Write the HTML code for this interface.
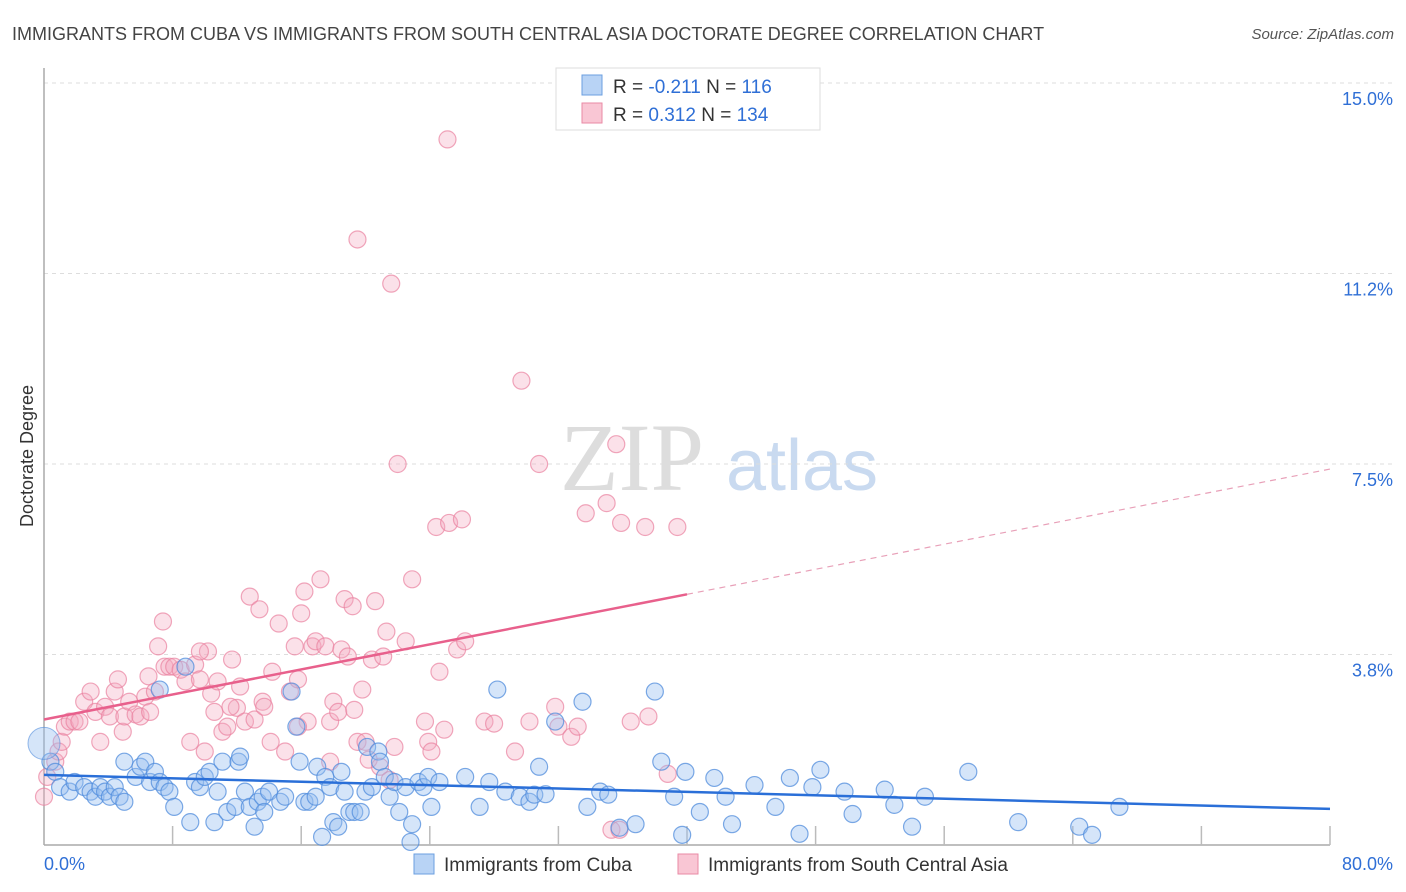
<!DOCTYPE html>
<html><head><meta charset="utf-8"><style>
body{margin:0;background:#fff;font-family:"Liberation Sans",sans-serif;}
svg{display:block}
</style></head><body>
<svg width="1406" height="892" id="c">
<text x="12" y="40" font-size="18" fill="#444">IMMIGRANTS FROM CUBA VS IMMIGRANTS FROM SOUTH CENTRAL ASIA DOCTORATE DEGREE CORRELATION CHART</text>
<text x="1394" y="39" font-size="15" fill="#555" font-style="italic" text-anchor="end">Source: ZipAtlas.com</text>
<g>
<text x="632" y="490" font-size="96" fill="#ddd" font-family="Liberation Serif" text-anchor="middle">ZIP</text>
<text x="802" y="490" font-size="72" fill="#c9daf0" text-anchor="middle">atlas</text>
</g>
<g id="grid"></g>
<g id="axes"></g>
<text transform="translate(33,456) rotate(-90)" font-size="18" fill="#333" text-anchor="middle">Doctorate Degree</text>
<g id="pts"></g>
<g id="trends"></g>
<g>
<rect x="556" y="68" width="264" height="62" fill="#fff" stroke="#ddd"/>
<rect x="582" y="75" width="20" height="20" fill="#b8d3f5" stroke="#6b9fe0"/>
<rect x="582" y="103" width="20" height="20" fill="#f9c6d4" stroke="#e98aa5"/>
<text x="613" y="93" font-size="19" fill="#333">R = <tspan fill="#2f6fd6">-0.211</tspan>   N = <tspan fill="#2f6fd6">116</tspan></text>
<text x="613" y="121" font-size="19" fill="#333">R = <tspan fill="#2f6fd6"> 0.312</tspan>   N = <tspan fill="#2f6fd6">134</tspan></text>
</g>
<g>
<rect x="414" y="854" width="20" height="20" fill="#b8d3f5" stroke="#6b9fe0"/>
<text x="444" y="871" font-size="19" fill="#333">Immigrants from Cuba</text>
<rect x="678" y="854" width="20" height="20" fill="#f9c6d4" stroke="#e98aa5"/>
<text x="708" y="871" font-size="19" fill="#333">Immigrants from South Central Asia</text>
</g>
</svg>
<script>
const yTicks=[3.8,7.5,11.2,15.0];
const yTickVals=[3.75,7.5,11.25,15];
const xTickLabels=["0.0%","80.0%"];
const blue=[[0.4,1.64],[0.7,1.44],[1.0,1.14],[1.6,1.05],[1.9,1.24],[2.5,1.14],[2.9,1.05],[3.2,0.95],[3.5,1.14],[3.8,1.05],[4.1,0.95],[4.4,1.14],[4.7,0.95],[5.0,0.85],[5.0,1.64],[5.7,1.34],[6.0,1.54],[6.3,1.64],[6.6,1.24],[6.9,1.44],[7.2,1.24],[7.5,1.14],[7.8,1.05],[8.1,0.75],[7.2,3.06],[8.8,3.51],[9.1,0.45],[9.4,1.24],[9.7,1.14],[10.0,1.34],[10.3,1.44],[10.6,0.45],[10.8,1.05],[11.1,1.64],[11.4,0.65],[11.9,0.75],[12.1,1.64],[12.2,1.74],[12.5,1.05],[12.8,0.75],[13.1,0.36],[13.3,0.85],[13.6,0.95],[13.7,0.65],[14.0,1.05],[14.7,0.85],[15.0,0.95],[15.4,3.02],[15.7,2.33],[15.9,1.64],[16.2,0.85],[16.5,0.85],[16.9,0.95],[17.0,1.54],[17.3,0.16],[17.5,1.34],[17.8,1.14],[18.0,0.45],[18.3,0.36],[18.5,1.44],[18.7,1.05],[19.0,0.65],[19.3,0.65],[19.7,0.65],[20.0,1.05],[20.1,1.93],[20.4,1.14],[20.8,1.84],[20.9,1.64],[21.2,1.34],[21.5,0.95],[21.8,1.24],[22.1,0.65],[22.5,1.14],[22.8,0.06],[22.9,0.41],[23.3,1.24],[23.6,1.14],[23.9,1.34],[24.1,0.75],[24.6,1.24],[26.2,1.34],[27.1,0.75],[27.7,1.24],[28.2,3.06],[28.7,1.05],[29.6,0.95],[30.2,0.85],[30.5,0.99],[30.8,1.54],[31.2,1.0],[31.8,2.43],[33.5,2.82],[33.8,0.75],[34.6,1.05],[35.1,0.99],[35.8,0.34],[36.8,0.41],[38.0,3.02],[38.4,1.64],[39.2,0.95],[39.7,0.2],[39.9,1.44],[40.8,0.65],[41.7,1.32],[42.4,0.95],[42.8,0.41],[44.2,1.18],[45.5,0.75],[46.4,1.32],[47.0,0.22],[47.8,1.14],[48.3,1.48],[49.8,1.05],[50.3,0.61],[52.3,1.09],[52.9,0.79],[54.0,0.36],[54.8,0.95],[57.5,1.44],[60.6,0.45],[64.4,0.36],[65.2,0.2],[66.9,0.75]];
const pink=[[0,0.95],[0.2,1.34],[0.7,1.64],[0.9,1.84],[1.1,2.03],[1.3,2.33],[1.6,2.43],[1.9,2.43],[2.2,2.43],[2.5,2.82],[2.9,3.02],[3.2,2.62],[3.5,2.03],[3.8,2.72],[4.1,2.53],[4.4,3.02],[4.6,3.26],[4.9,2.23],[5.0,2.53],[5.3,2.82],[5.7,2.57],[6.0,2.53],[6.3,2.92],[6.5,3.32],[6.6,2.62],[6.9,3.02],[7.1,3.91],[7.4,4.4],[7.5,3.51],[7.8,3.51],[8.1,3.51],[8.5,3.45],[8.8,3.22],[9.1,2.03],[9.4,3.55],[9.7,3.26],[10.0,1.84],[10.2,3.81],[10.4,2.98],[10.6,2.62],[10.8,3.22],[11.1,2.23],[11.4,2.33],[11.7,3.65],[12.0,2.7],[12.2,3.12],[12.5,2.43],[12.8,4.89],[13.1,2.47],[13.4,4.64],[13.6,2.82],[14.1,2.03],[14.2,3.41],[14.6,4.36],[15.0,1.84],[15.3,3.02],[15.6,3.91],[15.8,3.26],[16.0,4.56],[16.2,4.99],[16.4,2.43],[16.7,3.91],[16.9,4.01],[17.2,5.23],[17.5,3.91],[17.8,2.43],[18.0,2.82],[18.3,2.62],[18.5,3.85],[18.7,4.84],[18.9,3.71],[19.2,4.7],[19.3,2.66],[19.5,2.03],[19.8,3.06],[20.0,2.03],[20.2,1.68],[20.4,3.65],[20.6,4.8],[20.9,1.54],[21.1,3.71],[21.3,4.2],[21.5,1.28],[21.8,1.93],[22.0,7.5],[22.5,4.01],[22.9,5.23],[23.7,2.43],[23.9,2.03],[24.1,1.84],[24.4,6.26],[24.6,3.41],[24.9,2.27],[25.2,6.34],[25.7,3.85],[26.0,6.41],[26.2,4.01],[27.4,2.43],[28.0,2.39],[29.3,1.84],[30.2,2.43],[31.8,2.72],[32.0,2.33],[32.8,2.13],[33.2,2.33],[33.7,6.53],[35.0,6.73],[35.3,0.3],[35.6,7.89],[35.8,0.3],[35.9,6.34],[36.5,2.43],[37.4,6.26],[37.6,2.53],[38.8,1.4],[39.4,6.26],[30.8,7.5],[29.7,9.14],[21.6,11.05],[19.5,11.92],[25.1,13.89],[15.8,2.33],[17.8,1.64],[11.6,2.72],[9.7,3.81],[13.7,2.72]];
const blueTrend=[1.38,0.71];
const pinkTrend=[2.47,7.4];
const NS="http://www.w3.org/2000/svg";
const X=v=>44+v*(1330-44)/80;
const Y=v=>845-v*(845-83)/15;
function mk(t,a,p){const e=document.createElementNS(NS,t);for(const k in a)e.setAttribute(k,a[k]);p.appendChild(e);return e;}
const grid=document.getElementById('grid'),axes=document.getElementById('axes');
yTickVals.forEach((v,i)=>{
  const l=mk('line',{x1:44,x2:1392,y1:Y(v),y2:Y(v),stroke:'#ddd','stroke-dasharray':'4,4'},grid);
  
  
  const t=mk('text',{x:1393,y:Y(v)+22,'font-size':18,fill:'#2f6fd6','text-anchor':'end'},axes);
  t.textContent=yTicks[i].toFixed(1)+'%';
  
  
});
mk('line',{x1:44,x2:44,y1:68,y2:845,stroke:'#aaa','stroke-width':1.5},axes);
mk('line',{x1:44,x2:1330,y1:845,y2:845,stroke:'#aaa','stroke-width':1.5},axes);
for(let i=1;i<=10;i++){mk('line',{x1:X(i*8),x2:X(i*8),y1:826,y2:845,stroke:'#bbb','stroke-width':1.5},axes);}
const tl=mk('text',{x:44,y:870,'font-size':18,fill:'#2f6fd6'},axes);tl.textContent=xTickLabels[0];
const tr=mk('text',{x:1393,y:870,'font-size':18,fill:'#2f6fd6','text-anchor':'end'},axes);tr.textContent=xTickLabels[1];
const pts=document.getElementById('pts');
pink.forEach(d=>{const c=mk('circle',{cx:X(d[0]),cy:Y(d[1]),r:8.5,fill:'rgba(244,170,192,0.35)',stroke:'rgba(233,130,160,0.7)','stroke-width':1.2},pts);

});
blue.forEach(d=>{const c=mk('circle',{cx:X(d[0]),cy:Y(d[1]),r:8.5,fill:'rgba(150,190,240,0.4)',stroke:'rgba(80,140,220,0.75)','stroke-width':1.2},pts);

});
const big=mk('circle',{cx:X(0),cy:Y(2.0),r:16,fill:'rgba(150,190,240,0.4)',stroke:'rgba(80,140,220,0.6)'},pts);
const trg=document.getElementById('trends');
const bl=mk('line',{x1:X(0),y1:Y(blueTrend[0]),x2:X(80),y2:Y(blueTrend[1]),stroke:'#2a6fd8','stroke-width':2.5},trg);


const mid=pinkTrend[0]+(pinkTrend[1]-pinkTrend[0])*0.5;
const pl=mk('line',{x1:X(0),y1:Y(pinkTrend[0]),x2:X(40),y2:Y(mid),stroke:'#e8608c','stroke-width':2.5},trg);


const pd=mk('line',{x1:X(40),y1:Y(mid),x2:X(80),y2:Y(pinkTrend[1]),stroke:'#e8a0b8','stroke-width':1.2,'stroke-dasharray':'6,5'},trg);


</script>
</body></html>
